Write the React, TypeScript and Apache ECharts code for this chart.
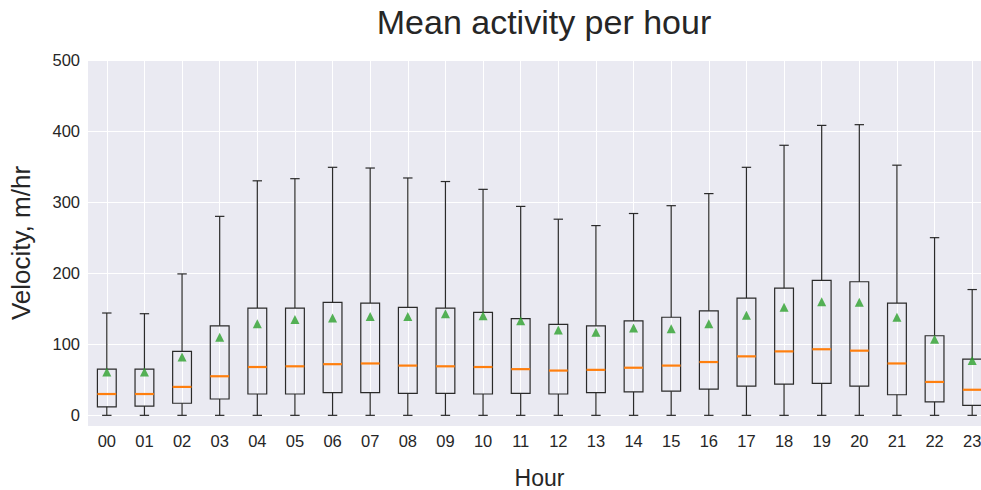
import React, { useEffect, useRef } from "react";
import * as echarts from "echarts";

// Hour-of-day categories
const hours = [
  "00", "01", "02", "03", "04", "05", "06", "07", "08", "09", "10", "11",
  "12", "13", "14", "15", "16", "17", "18", "19", "20", "21", "22", "23",
];

// Box statistics per hour (m/hr)
const whiskerLow = [0, 0, 0, 0, 0, 0, 0, 0, 0, 0, 0, 0, 0, 0, 0, 0, 0, 0, 0, 0, 0, 0, 0, 0];
const q1 = [12, 13, 17, 23, 30, 30, 32, 32, 31, 31, 30, 31, 30, 32, 33, 34, 37, 41, 44, 45, 41, 29, 19, 14];
const median = [30, 30, 40, 55, 68, 69, 72, 73, 70, 69, 68, 65, 63, 64, 67, 70, 75, 83, 90, 93, 91, 73, 47, 36];
const q3 = [65, 65, 90, 126, 151, 151, 159, 158, 152, 151, 145, 136, 128, 126, 133, 138, 147, 165, 179, 190, 188, 158, 112, 79];
const whiskerHigh = [144, 143, 199, 280, 330, 333, 349, 348, 334, 329, 318, 294, 276, 267, 284, 295, 312, 349, 380, 408, 409, 352, 250, 177];
const mean = [61, 61, 82, 110, 129, 135, 137, 139, 139, 143, 140, 133, 120, 117, 123, 122, 129, 141, 152, 160, 159, 138, 107, 77];

const yTicks = [0, 100, 200, 300, 400, 500];

const FONT = "Liberation Sans, Arial, Helvetica, sans-serif";
const TEXT = "#262626";
const PLOT_H = 366;

export default function App() {
  const ref = useRef<HTMLDivElement>(null);

  useEffect(() => {
    if (!ref.current) return;
    const chart = echarts.init(ref.current, undefined, { renderer: "svg" });

    const boxData = hours.map((_, i) => [i, whiskerLow[i], q1[i], median[i], q3[i], whiskerHigh[i]]);

    chart.setOption({
      animation: false,
      backgroundColor: "#ffffff",
      title: {
        text: "Mean activity per hour",
        left: 539,
        top: 0,
        textAlign: "center",
        textStyle: { fontFamily: FONT, fontSize: 34, fontWeight: "normal", color: TEXT },
      },
      grid: {
        left: 88,
        top: 60,
        width: 903,
        height: PLOT_H,
        outerBoundsMode: "none",
        containLabel: false,
        show: true,
        backgroundColor: "#eaeaf2",
        borderWidth: 0,
      },
      xAxis: {
        type: "category",
        data: hours,
        boundaryGap: true,
        name: "Hour",
        nameLocation: "middle",
        nameGap: 40,
        nameTextStyle: { fontFamily: FONT, fontSize: 23, color: TEXT },
        axisLine: { show: false },
        // white vertical grid lines centred on each hour
        axisTick: {
          show: true,
          alignWithLabel: true,
          inside: true,
          length: PLOT_H,
          lineStyle: { color: "#ffffff", width: 1 },
        },
        axisLabel: { fontFamily: FONT, fontSize: 16.5, color: TEXT, margin: 6 },
        splitLine: { show: false },
      },
      yAxis: {
        type: "value",
        min: -15,
        max: 500,
        splitNumber: 5,
        name: "Velocity, m/hr",
        nameLocation: "middle",
        nameGap: 54,
        nameTextStyle: { fontFamily: FONT, fontSize: 26, color: TEXT },
        axisLine: { show: false },
        axisTick: { show: false },
        axisLabel: {
          fontFamily: FONT,
          fontSize: 16.5,
          color: TEXT,
          margin: 8,
          formatter: (v: number) => (yTicks.includes(v) ? String(v) : ""),
        },
        splitLine: { show: true, lineStyle: { color: "#ffffff", width: 1 } },
      },
      series: [
        {
          type: "custom",
          name: "box",
          data: boxData,
          encode: { x: 0, y: [1, 2, 3, 4, 5] },
          clip: false,
          z: 2,
          renderItem: (params: any, api: any) => {
            const idx = api.value(0);
            const band = api.size([1, 0])[0];
            const bw = band * 0.5;
            const cw = bw * 0.5;
            const pLo = api.coord([idx, api.value(1)]);
            const pQ1 = api.coord([idx, api.value(2)]);
            const pMed = api.coord([idx, api.value(3)]);
            const pQ3 = api.coord([idx, api.value(4)]);
            const pHi = api.coord([idx, api.value(5)]);
            const cx = pLo[0];
            const edge = { stroke: "#2a2a2a", lineWidth: 1.2, fill: "none" };
            return {
              type: "group",
              children: [
                { type: "line", shape: { x1: cx, y1: pQ1[1], x2: cx, y2: pLo[1] }, style: edge },
                { type: "line", shape: { x1: cx, y1: pQ3[1], x2: cx, y2: pHi[1] }, style: edge },
                { type: "line", shape: { x1: cx - cw / 2, y1: pLo[1], x2: cx + cw / 2, y2: pLo[1] }, style: edge },
                { type: "line", shape: { x1: cx - cw / 2, y1: pHi[1], x2: cx + cw / 2, y2: pHi[1] }, style: edge },
                {
                  type: "rect",
                  shape: { x: cx - bw / 2, y: pQ3[1], width: bw, height: pQ1[1] - pQ3[1] },
                  style: edge,
                },
                {
                  type: "line",
                  shape: { x1: cx - bw / 2, y1: pMed[1], x2: cx + bw / 2, y2: pMed[1] },
                  style: { stroke: "#ff7f0e", lineWidth: 2.2 },
                },
              ],
            };
          },
        },
        {
          type: "scatter",
          name: "mean",
          data: mean,
          symbol: "triangle",
          symbolSize: 9,
          z: 3,
          itemStyle: { color: "#2ca02c" },
        },
      ],
    });

    return () => chart.dispose();
  }, []);

  return (
    <div
      ref={ref}
      style={{ position: "fixed", left: 0, top: 0, width: 981, height: 490, overflow: "hidden" }}
    />
  );
}
